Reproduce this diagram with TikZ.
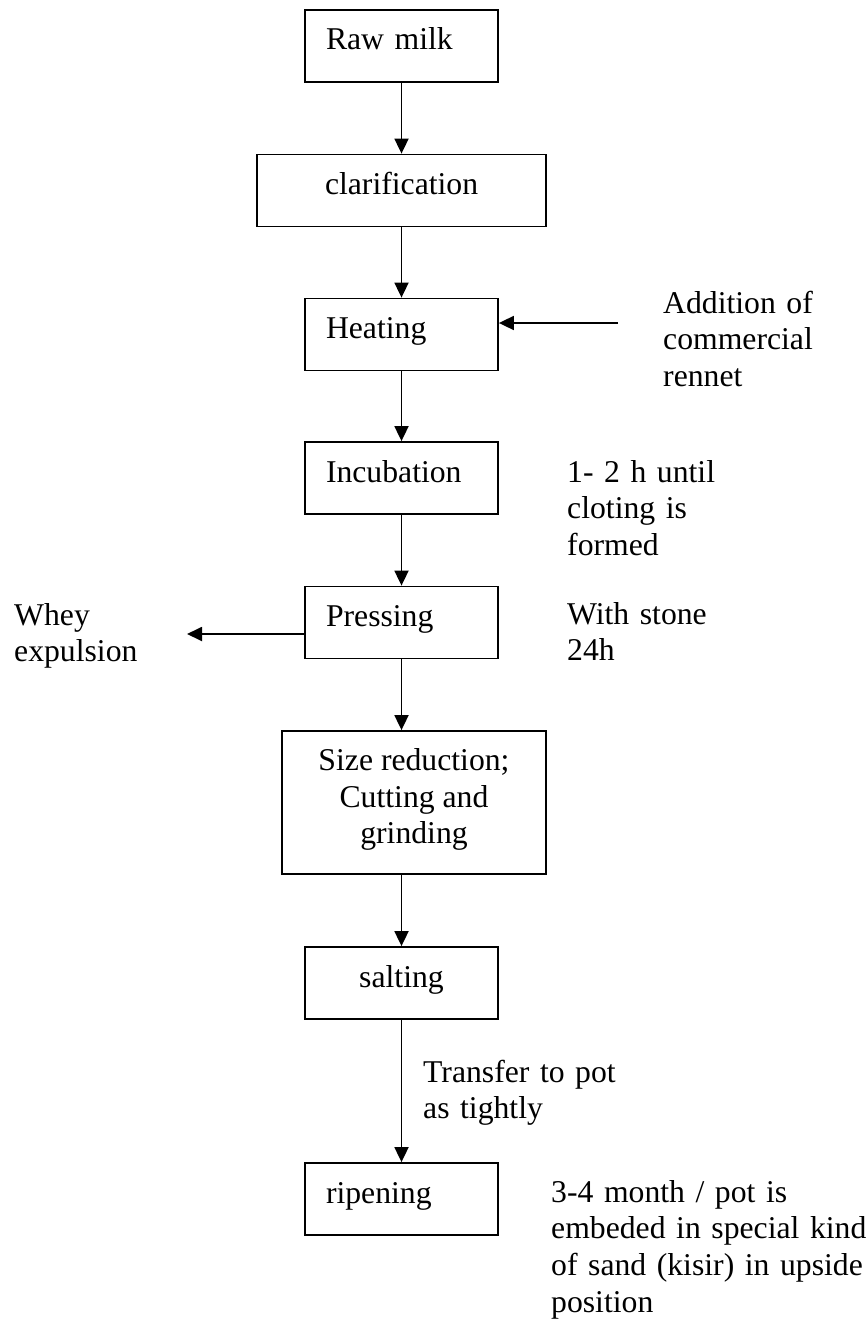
\documentclass[tikz,border=0pt]{standalone}
\usepackage{fontspec}
\setmainfont{Liberation Serif}
\usetikzlibrary{arrows.meta}
\begin{document}
\begin{tikzpicture}[x=1pt,y=-1pt,
  every node/.style={font=\fontsize{31.7pt}{36.7pt}\selectfont},
  box/.style={draw, line width=1.8pt, minimum height=72pt, inner ysep=0pt, text height=20pt, text depth=12pt},
  lbox/.style={box, minimum width=193pt, inner xsep=21pt, text width=151pt, align=left},
  note/.style={anchor=base west, inner sep=0pt, align=left},
  arr/.style={line width=1.8pt, -{Triangle[length=15pt,width=14pt]}}
]
\useasboundingbox (0,0) rectangle (865,1319);
% process boxes
\node[lbox] (raw) at (401.5,46) {Raw milk};
\node[box, minimum width=289pt, inner xsep=68pt, text width=153pt, align=left] (clar) at (401.5,190.5) {clarification};
\node[lbox] (heat) at (401.5,334.5) {Heating};
\node[lbox] (incu) at (401.5,478) {Incubation};
\node[lbox] (press) at (401.5,622.5) {Pressing};
\node[draw, line width=1.8pt, minimum width=264pt, minimum height=143pt, inner sep=0pt, align=center] (size) at (414,802.5) {Size reduction;\\Cutting and\\grinding\rule[-13pt]{0pt}{13pt}};
\node[box, minimum width=193pt, inner xsep=21pt, text width=151pt, align=center] (salt) at (401.5,983) {salting};
\node[lbox] (ripe) at (401.5,1199) {ripening};
% main flow
\draw[arr] (raw.south) -- (clar.north);
\draw[arr] (clar.south) -- (heat.north);
\draw[arr] (heat.south) -- (incu.north);
\draw[arr] (incu.south) -- (press.north);
\draw[arr] (press.south) -- (press.south |- size.north);
\draw[arr] (salt.north |- size.south) -- (salt.north);
\draw[arr] (salt.south) -- (ripe.north);
% side arrows
\coordinate (rennetstart) at (618,323);
\draw[arr] (rennetstart) -- (rennetstart -| heat.east);
\coordinate (wheyend) at (187,634);
\draw[arr] (press.west |- wheyend) -- (wheyend);
% notes
\node[note, text width=200pt] (rennet) at (663,313) {Addition of\\commercial\\rennet};
\node[note, text width=250pt] (clot) at (567,482) {1- 2 h until\\cloting is\\formed};
\node[note, text width=250pt] (stone) at (567,624) {With stone\\24h};
\node[note, text width=170pt] (whey) at (14,625) {Whey\\expulsion};
\node[note, text width=250pt] (transfer) at (423,1082) {Transfer to pot\\as tightly};
\node[note, text width=360pt] (pot) at (551,1202) {3-4 month / pot is\\embeded in special kind\\of sand (kisir) in upside\\position};
\end{tikzpicture}
\end{document}
